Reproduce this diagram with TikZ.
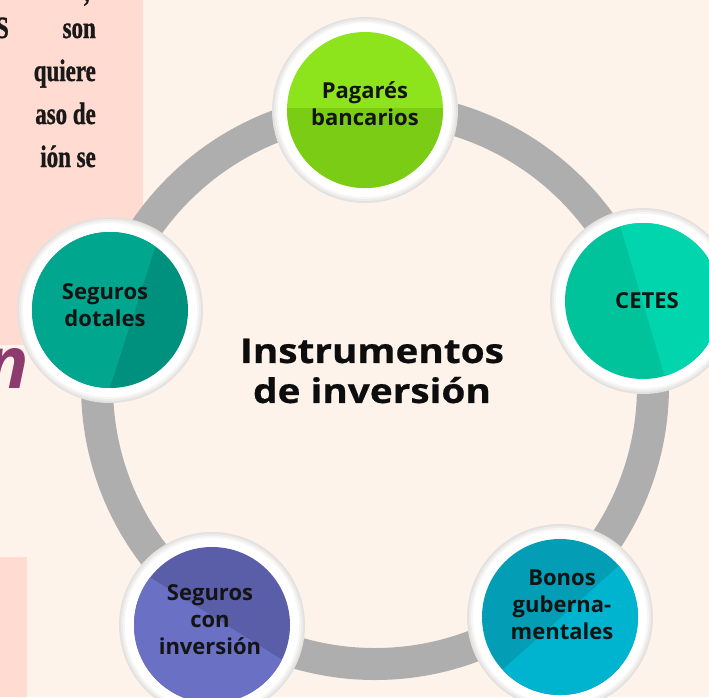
\documentclass[tikz,border=0pt]{standalone}
\usepackage{fontspec}
\setmainfont{Open Sans}
\IfFontExistsTF{Open Sans SemiBold}{\newfontfamily\bubblefont{Open Sans SemiBold}}{\newcommand\bubblefont{\bfseries}}
\newfontfamily\titlefont{Open Sans}[FakeStretch=1.14,FakeBold=0.6]
\newfontfamily\panelfont{Liberation Serif}[FakeStretch=0.74,FakeBold=1]
\definecolor{bgcream}{HTML}{FDF3EB}
\definecolor{panelpink}{HTML}{FFDBD1}
\definecolor{ringgray}{HTML}{AEAEAE}
\definecolor{scriptpurple}{HTML}{8C3B6E}
\definecolor{haloA}{HTML}{E4E2E0}
\definecolor{haloB}{HTML}{EEECEA}
\definecolor{haloC}{HTML}{F7F6F5}
\definecolor{limeA}{HTML}{8DE31C}
\definecolor{limeB}{HTML}{7BCC15}
\definecolor{cetesA}{HTML}{00C39B}
\definecolor{cetesB}{HTML}{00D5AD}
\definecolor{bonosA}{HTML}{039DB6}
\definecolor{bonosB}{HTML}{00B4D0}
\definecolor{invA}{HTML}{5A5EA8}
\definecolor{invB}{HTML}{6A70C3}
\definecolor{dotA}{HTML}{00917E}
\definecolor{dotB}{HTML}{00A68D}
\tikzset{
  bubbletext/.style={align=center, font=\bubblefont\fontsize{22}{27}\selectfont, text=black!92, inner sep=0pt},
  titletext/.style={align=center, font=\titlefont\bfseries\fontsize{34}{40}\selectfont, text=black!95, inner sep=0pt},
  paneltext/.style={anchor=base east, font=\panelfont\bfseries\fontsize{31}{34}\selectfont, text=black!90, inner sep=0pt},
  ringband/.style={draw=ringgray, line width=32pt},
}
\newcommand\bubbledisc[4]{%
  \fill[haloA] (#1) circle[radius=93pt];
  \fill[haloB] (#1) circle[radius=91pt];
  \fill[haloC] (#1) circle[radius=89pt];
  \fill[white] (#1) circle[radius=87pt];
  \begin{scope}
    \clip (#1) circle[radius=78pt];
    \fill[#2] (#1) circle[radius=79pt];
    \fill[#3] #4;
  \end{scope}}
\begin{document}
\begin{tikzpicture}[x=1pt,y=-1pt]
\useasboundingbox (0,0) rectangle (709,697);
\clip (0,0) rectangle (709,697);
\fill[bgcream] (0,0) rectangle (709,697);
% side panels
\fill[panelpink] (0,0) rectangle (143,345);
\fill[panelpink] (0,557) rectangle (27,697);
\node[paneltext] (p0) at (90,1) {,};
\node[paneltext] (p1a) at (9,38) {S};
\node[paneltext] (p1) at (96,38) {son};
\node[paneltext] (p2) at (96,81) {quiere};
\node[paneltext] (p3) at (96,124) {aso de};
\node[paneltext] (p4) at (96,167) {ión se};
\node[anchor=base east, inner sep=0pt, text=scriptpurple, font=\rmfamily\itshape\bfseries\fontsize{72}{72}\selectfont] (scriptn) at (29,388) {n};
% ring
\coordinate (ringc) at (375,386);
\draw[ringband] (ringc) circle[radius=278pt];
% bubbles
\coordinate (cPag) at (365,110);
\coordinate (cCet) at (643,301);
\coordinate (cBon) at (560,617);
\coordinate (cInv) at (212,625);
\coordinate (cDot) at (110,310);
\bubbledisc{cPag}{limeA}{limeB}{(280,108) rectangle (450,200)}
\bubbledisc{cCet}{cetesA}{cetesB}{(612.6,200) -- (671.8,400) -- (740,400) -- (740,200) -- cycle}
\bubbledisc{cBon}{bonosA}{bonosB}{(470,698.8) -- (660,528.9) -- (660,720) -- (470,720) -- cycle}
\bubbledisc{cInv}{invA}{invB}{(120,558.6) -- (300,671) -- (300,720) -- (120,720) -- cycle}
\bubbledisc{cDot}{dotA}{dotB}{(164,220) -- (105.8,400) -- (20,400) -- (20,220) -- cycle}
% texts
\node[bubbletext] (tPag) at (365,104) {Pagarés\\bancarios};
\node[bubbletext] (tCet) at (647,301) {CETES};
\node[bubbletext] (tBon) at (562,605) {Bonos\\guberna-\\mentales};
\node[bubbletext] (tInv) at (210,620) {Seguros\\con\\inversión};
\node[bubbletext] (tDot) at (105,305) {Seguros\\dotales};
\node[titletext] (title) at (372,371) {Instrumentos\\de inversión};
\end{tikzpicture}
\end{document}
